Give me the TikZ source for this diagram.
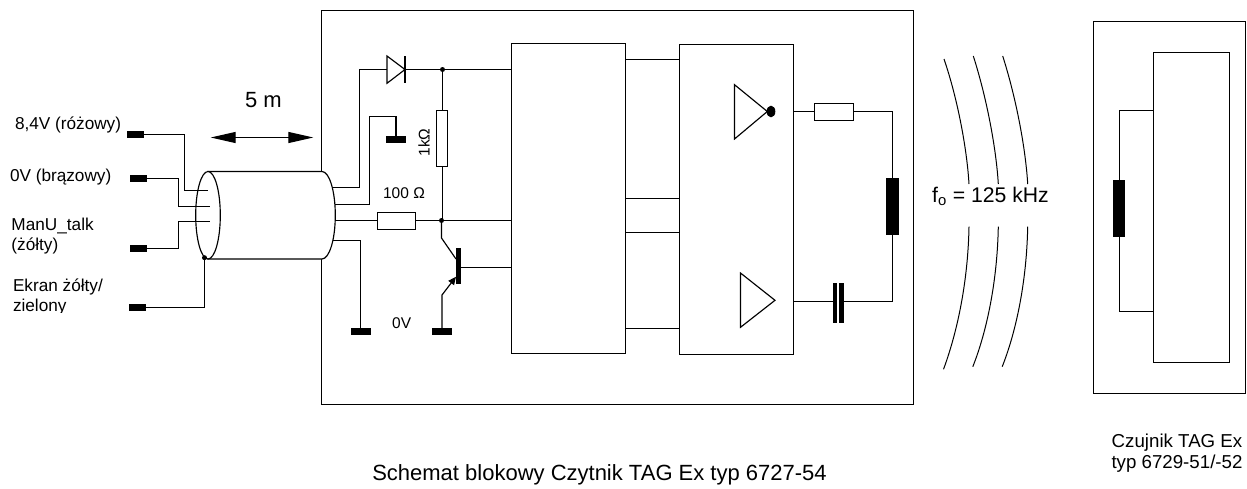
\documentclass[tikz,border=0pt]{standalone}
\usepackage{fontspec}
\setmainfont{Liberation Sans}
\usetikzlibrary{arrows.meta,shapes.geometric}

\begin{document}
\begin{tikzpicture}[x=1pt,y=-1pt,line width=1.15pt,
    every node/.style={inner sep=0pt,outer sep=0pt},
    box/.style={draw,rectangle,fill=white},
    pad/.style={fill=black,rectangle,minimum width=20pt,minimum height=7pt},
    coil/.style={fill=black,rectangle,minimum width=12.6pt,minimum height=57pt},
    res/.style={draw,rectangle,fill=white},
    dot/.style={fill=black,circle,minimum size=5pt},
    lbl/.style={font=\fontsize{17.2}{20}\selectfont,align=left,anchor=west},
    small/.style={font=\fontsize{15.5}{18}\selectfont},
    big/.style={font=\fontsize{22}{26}\selectfont}]
    \useasboundingbox (0,0) rectangle (1247,488);
    % housings and blocks
    \node[box,minimum width=592pt,minimum height=394pt] (reader) at (617.5,207.5) {};
    \node[box,minimum width=114pt,minimum height=310pt] (logic) at (568.5,198.5) {};
    \node[box,minimum width=114pt,minimum height=310pt] (driver) at (736.5,199.5) {};
    \node[box,minimum width=152pt,minimum height=372pt] (tagcase) at (1169.5,207.5) {};
    \node[box,minimum width=76pt,minimum height=310pt] (chip) at (1191.5,207.5) {};
    % links between blocks
    \foreach \y in {59.5,198.5,232.5,328.5}
        \draw (logic.east |- 0,\y) -- (driver.west |- 0,\y);
    % cable
    \coordinate (cabTop) at (208,171.5);
    \coordinate (cabTopR) at (322,171.5);
    \coordinate (cabBot) at (208,259);
    \draw[fill=white] (cabTop) -- (cabTopR) arc[start angle=90,end angle=-90,x radius=13.3pt,y radius=43.75pt] -- (cabBot) -- cycle;
    \node[draw,ellipse,fill=white,minimum width=24.6pt,minimum height=87.5pt] (cabEnd) at (208,215.25) {};
    % left terminals
    \node[pad,minimum width=16.5pt,minimum height=6.5pt] (padA) at (135.7,134.5) {};
    \node[pad,minimum width=16.5pt,minimum height=6.5pt] (padB) at (138.7,178.5) {};
    \node[pad,minimum width=16.5pt,minimum height=6.5pt] (padC) at (138.7,248.5) {};
    \node[pad,minimum width=16.5pt,minimum height=6.5pt] (padD) at (137.7,307.5) {};
    \node[dot] (shield) at (204.5,257.7) {};
    \coordinate (inA) at (208,190.5);
    \coordinate (inB) at (210,206.5);
    \coordinate (inC) at (210,221.5);
    \draw (padA.east) -- (184.5,134.5) -- (184.5,190.5) -- (inA);
    \draw (padB.east) -- (178.5,178.5) -- (178.5,206.5) -- (inB);
    \draw (padC.east) -- (178.5,248.5) -- (178.5,221.5) -- (inC);
    \draw (padD.east) -| (shield);
    \node[lbl] (lblA) at (15,124.5) {8,4V (różowy)};
    \node[lbl] (lblB) at (10,177.5) {0V (brązowy)};
    \node[lbl] (lblC) at (11.5,236.5) {ManU\_talk\\(żółty)};
    \begin{scope}
        \clip (0,0) rectangle (200,312);
        \node[lbl] (lblD) at (13,297) {Ekran żółty/\\zielony};
    \end{scope}
    % cable length
    \coordinate (lenA) at (210.7,137.5);
    \coordinate (lenB) at (313.3,137.5);
    \draw[{Triangle[length=25pt,width=11pt]}-{Triangle[length=25pt,width=11pt]}] (lenA) -- (lenB);
    \node[big] (lenText) at (263.5,100.5) {5 m};
    % reader input
    \node[pad] (padE) at (396,139) {};
    \node[pad] (padF) at (361,331) {};
    \node[pad] (padG) at (442,331.7) {};
    \node[dot] (nodeTop) at (442.5,69.5) {};
    \node[dot] (nodeMid) at (441.5,220.5) {};
    \coordinate (diodeIn) at (387,69.5);
    \coordinate (diodeOut) at (405,69.5);
    \coordinate (outA) at (332.2,187.5);
    \coordinate (outB) at (334.9,204.5);
    \coordinate (outC) at (335.2,220.5);
    \coordinate (outD) at (333,240.5);
    \draw (outA) -- (359.5,187.5) -- (359.5,69.5) -- (diodeIn);
    \draw[fill=white] (387,56) -- (diodeOut) -- (387,83.3) -- cycle;
    \draw (405,56) -- (405,83.3);
    \draw (diodeOut) -- (logic.west |- diodeOut);
    \draw (outB) -- (369.5,204.5) -- (369.5,116.5) -- (396,116.5) -- (padE.north);
    \draw (outD) -- (360.5,240.5) -- (360.5,328);
    \draw (nodeTop) -- (nodeTop |- nodeMid);
    \draw (outC) -- (nodeMid) -- (logic.west |- nodeMid);
    \node[res,minimum width=11pt,minimum height=56pt] (resTop) at (442,138.5) {};
    \node[res,minimum width=38pt,minimum height=17pt] (resMid) at (396.5,221) {};
    \node[small,rotate=90] (lblRes) at (424,142.5) {1kΩ};
    \node[small] (lblOhm) at (404,193) {100 Ω};
    \node[small] (lblZero) at (401.7,323) {0V};
    % transistor
    \node[fill=black,rectangle,minimum width=5.2pt,minimum height=35.4pt] (qBase) at (458.5,266) {};
    \coordinate (qC) at (456,259);
    \coordinate (qE) at (456,276.7);
    \draw (nodeMid) -- (441.5,238) -- (qC);
    \draw[-{Triangle[length=8pt,width=7pt]}] (padG.north) -- (442,295) -- (qE);
    \draw (qBase.east |- 0,267.5) -- (logic.west |- 0,267.5);
    % driver stages
    \coordinate (invTip) at (767.3,111.5);
    \coordinate (bufTip) at (775,300.3);
    \draw (734.5,84.7) -- (invTip) -- (734.5,139) -- cycle;
    \draw (740.5,273) -- (bufTip) -- (740.5,327.3) -- cycle;
    \node[fill=black,ellipse,minimum width=8.7pt,minimum height=11.7pt] (invDot) at (771,111.5) {};
    % antenna circuit
    \node[coil] (coilR) at (892.7,206) {};
    \node[fill=black,rectangle,minimum width=4.4pt,minimum height=40.6pt] (capA) at (835.1,303) {};
    \node[fill=black,rectangle,minimum width=4.4pt,minimum height=40.6pt] (capB) at (841.5,303) {};
    \node[res,minimum width=39pt,minimum height=17pt] (resOut) at (833.8,112) {};
    \draw (driver.east |- 0,111.5) -- (resOut.west |- 0,111.5);
    \draw (resOut.east |- 0,111.5) -- (892.5,111.5) -- (892.5,178);
    \draw (892.5,234) -- (892.5,301.5) -- (capB.east |- 0,301.5);
    \draw (driver.east |- 0,301.5) -- (capA.west |- 0,301.5);
    % field
    \foreach \dx/\ya/\yb in {0/59/369.3,29.3/56/366.7,58.7/56/366.7}{
        \draw[line width=1pt] (944+\dx,\ya) .. controls (958+\dx,100) and (967+\dx,150) .. (969+\dx,184);
        \draw[line width=1pt] (969+\dx,226.7) .. controls (968+\dx,280) and (958+\dx,330) .. (943.5+\dx,\yb);
    }
    \node[font=\fontsize{21.2}{26}\selectfont] (lblFreq) at (990.5,196) {f\textsubscript{o} = 125 kHz};
    % tag
    \node[coil] (coilL) at (1119,208.5) {};
    \coordinate (tagTop) at (1119.5,110.5);
    \coordinate (tagBot) at (1119.5,311.5);
    \draw (chip.west |- tagTop) -- (tagTop) -- (coilL.north -| tagTop);
    \draw (chip.west |- tagBot) -- (tagBot) -- (coilL.south -| tagBot);
    % captions
    \node[font=\fontsize{18.7}{21.5}\selectfont,align=center] (capTag) at (1177,453) {Czujnik TAG Ex\\typ 6729-51/-52};
    \node[big] (capMain) at (599.5,474.5) {Schemat blokowy Czytnik TAG Ex typ 6727-54};
\end{tikzpicture}
\end{document}
